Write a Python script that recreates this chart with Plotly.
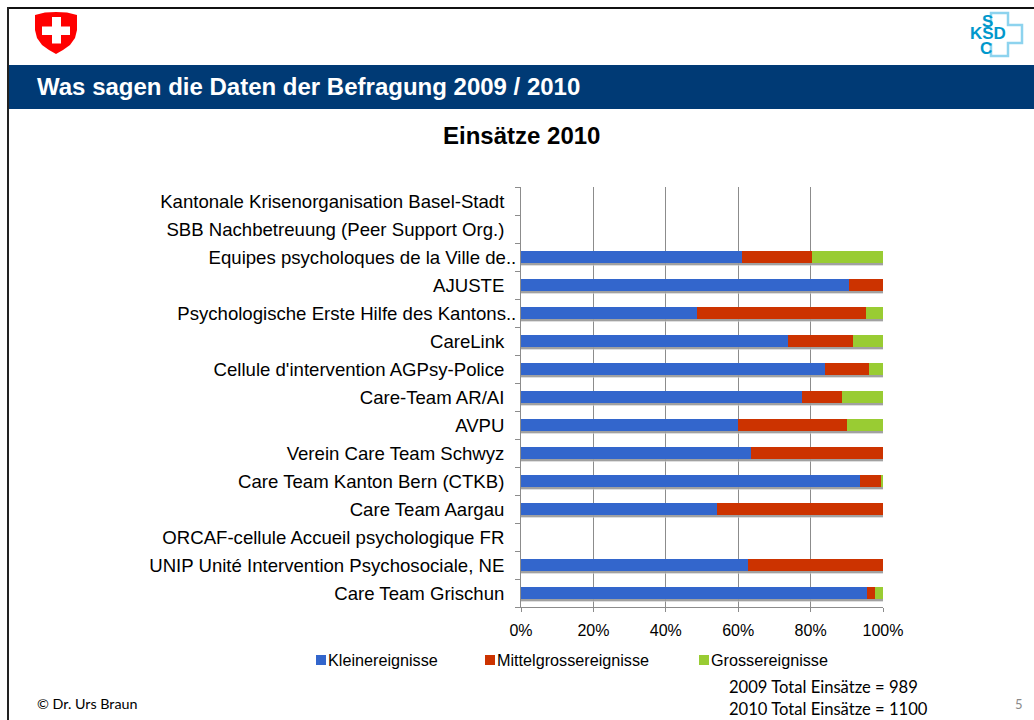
import plotly.graph_objects as go

categories = [
    "Care Team Grischun", "UNIP Unité Intervention Psychosociale, NE",
    "ORCAF-cellule Accueil psychologique FR", "Care Team Aargau",
    "Care Team Kanton Bern (CTKB)", "Verein Care Team Schwyz", "AVPU",
    "Care-Team AR/AI", "Cellule d'intervention AGPsy-Police", "CareLink",
    "Psychologische Erste Hilfe des Kantons..", "AJUSTE",
    "Equipes psycholoques de la Ville de..",
    "SBB Nachbetreuung (Peer Support Org.)",
    "Kantonale Krisenorganisation Basel-Stadt",
]
klein = [95.6, 62.6, None, 54.2, 93.7, 63.6, 60.0, 77.6, 84.0, 73.7, 48.7, 90.6, 61.0, None, None]
mittel = [2.2, 37.4, None, 45.8, 5.7, 36.4, 30.0, 11.1, 12.1, 18.0, 46.6, 9.4, 19.4, None, None]
gross = [2.2, 0, None, 0, 0.6, 0, 10.0, 11.3, 3.9, 8.3, 4.7, 0, 19.6, None, None]
series_names = ["Kleinereignisse", "Mittelgrossereignisse", "Grossereignisse"]
series_colors = ["#3366CC", "#CC3300", "#99CC33"]
legend_x = [316, 485, 699]
x_ticks = [0, 20, 40, 60, 80, 100]
x_ticktext = ["0%", "20%", "40%", "60%", "80%", "100%"]

L, R, T, B = 521, 883, 187, 607
def px(x): return (x - L) / (R - L)
def py(y): return (B - y) / (B - T)
def pts(points):
    return "M" + "L".join(f"{px(a):.5f},{py(b):.5f}" for a, b in points)
def rect(x0, y0, x1, y1, fill):
    return dict(type="rect", xref="paper", yref="paper", x0=px(x0), x1=px(x1), y0=py(y0), y1=py(y1),
                fillcolor=fill, line=dict(width=0), layer="above")
def text(x, y, s, size, color="#000", family="Liberation Sans", anchor="left", bold=False):
    return dict(xref="paper", yref="paper", x=px(x), y=py(y), text=f"<b>{s}</b>" if bold else s, showarrow=False,
                xanchor=anchor, yanchor="middle", font=dict(size=size, color=color, family=family))

fig = go.Figure()
BW = 0.40
totals = [None if k is None else k + m + g for k, m, g in zip(klein, mittel, gross)]
for off, w, col in [(-BW / 2 - 0.13, 0.13, "rgba(200,200,200,0.6)"), (-BW / 2 - 0.07, 0.07, "rgba(150,150,150,0.85)")]:
    fig.add_bar(y=categories, x=totals, orientation="h", offset=off, width=w,
                marker=dict(color=col, line_width=0), showlegend=False, hoverinfo="skip")
base = [0.0 for _ in klein]
for name, color, vals in zip(series_names, series_colors, [klein, mittel, gross]):
    fig.add_bar(y=categories, x=vals, base=list(base), orientation="h", name=name, offset=-BW / 2, width=BW,
                marker=dict(color=color, line_width=0), showlegend=False)
    base = [b + (v or 0) for b, v in zip(base, vals)]

shapes = [
    rect(7, 65, 1034, 109, "#003A75"),
    rect(7, 7, 1034, 9, "#111111"),
    rect(7, 7, 9, 720, "#222222"),
    dict(type="path", xref="paper", yref="paper", layer="above", fillcolor="#FF0000", line_width=0,
         path=pts([(35, 15), (45, 12.5), (56, 12), (67, 12.5), (77, 15), (77, 30), (75, 38), (70, 45), (63, 50), (56, 54),
                   (49, 50), (42, 45), (37, 38), (35, 30)]) + "Z"),
    rect(52, 17, 61, 43.5, "#FFFFFF"),
    rect(42, 26.5, 70, 35, "#FFFFFF"),
    dict(type="path", xref="paper", yref="paper", layer="above",
         line=dict(color="#8DD3EE", width=2.5),
         path=pts([(991, 25), (991, 13), (1008, 13), (1008, 25), (1022, 25), (1022, 43), (1008, 43), (1008, 56), (991, 56),
                   (991, 43)])),
]
annotations = [
    text(35, 87, "Was sagen die Daten der Befragung 2009 / 2010", 24, "#FFFFFF", bold=True),
    text(521.5, 135, "Einsätze 2010", 24, anchor="center", bold=True),
    text(35, 703, "© Dr. Urs Braun", 14.3, family="Lato"),
    text(727, 686.5, "2009 Total Einsätze = 989", 16.6, family="Lato"),
    text(727, 708.5, "2010 Total Einsätze = 1100", 16.6, family="Lato"),
    text(1013, 704, "5", 13, "#8A8A8A", family="Lato"),
    text(987, 21, "S", 17, "#0098CC", anchor="center", bold=True),
    text(987.5, 34, "KSD", 17, "#0098CC", anchor="center", bold=True),
    text(986, 48, "C", 17, "#0098CC", anchor="center", bold=True),
]
for x0, name, color in zip(legend_x, series_names, series_colors):
    shapes.append(rect(x0, 655, x0 + 10, 665, color))
    annotations.append(text(x0 + 10, 660, name, 16.2))

fig.update_layout(
    width=1034, height=720, margin=dict(l=L, r=1034 - R, t=T, b=720 - B, autoexpand=False),
    paper_bgcolor="#FFFFFF", plot_bgcolor="#FFFFFF", barmode="overlay", bargap=0, showlegend=False,
    font=dict(family="Liberation Sans", size=16, color="#000"), shapes=shapes, annotations=annotations,
)
fig.update_xaxes(range=[0, 100], tickvals=x_ticks, ticktext=x_ticktext, showgrid=True, gridcolor="#8C8C8C", gridwidth=1,
                 zeroline=False, showline=True, linecolor="#8C8C8C", ticks="outside", ticklen=4, tickcolor="#8C8C8C",
                 ticklabelstandoff=5, tickfont=dict(size=16), fixedrange=True)
pad = "\u00a0\u00a0\u200a"
fig.update_yaxes(type="category", categoryorder="array", categoryarray=categories, tickmode="array", tickvals=categories,
                 ticktext=[c if c.endswith("..") else c + pad for c in categories], tickson="boundaries", ticks="outside", ticklen=5,
                 tickcolor="#8C8C8C", showline=True, linecolor="#8C8C8C", showgrid=False, tickfont=dict(size=18.6),
                 fixedrange=True)
fig.write_html("out.html", post_script="document.body.style.margin='0';document.body.style.overflow='hidden';",
               config=dict(displayModeBar=False))
